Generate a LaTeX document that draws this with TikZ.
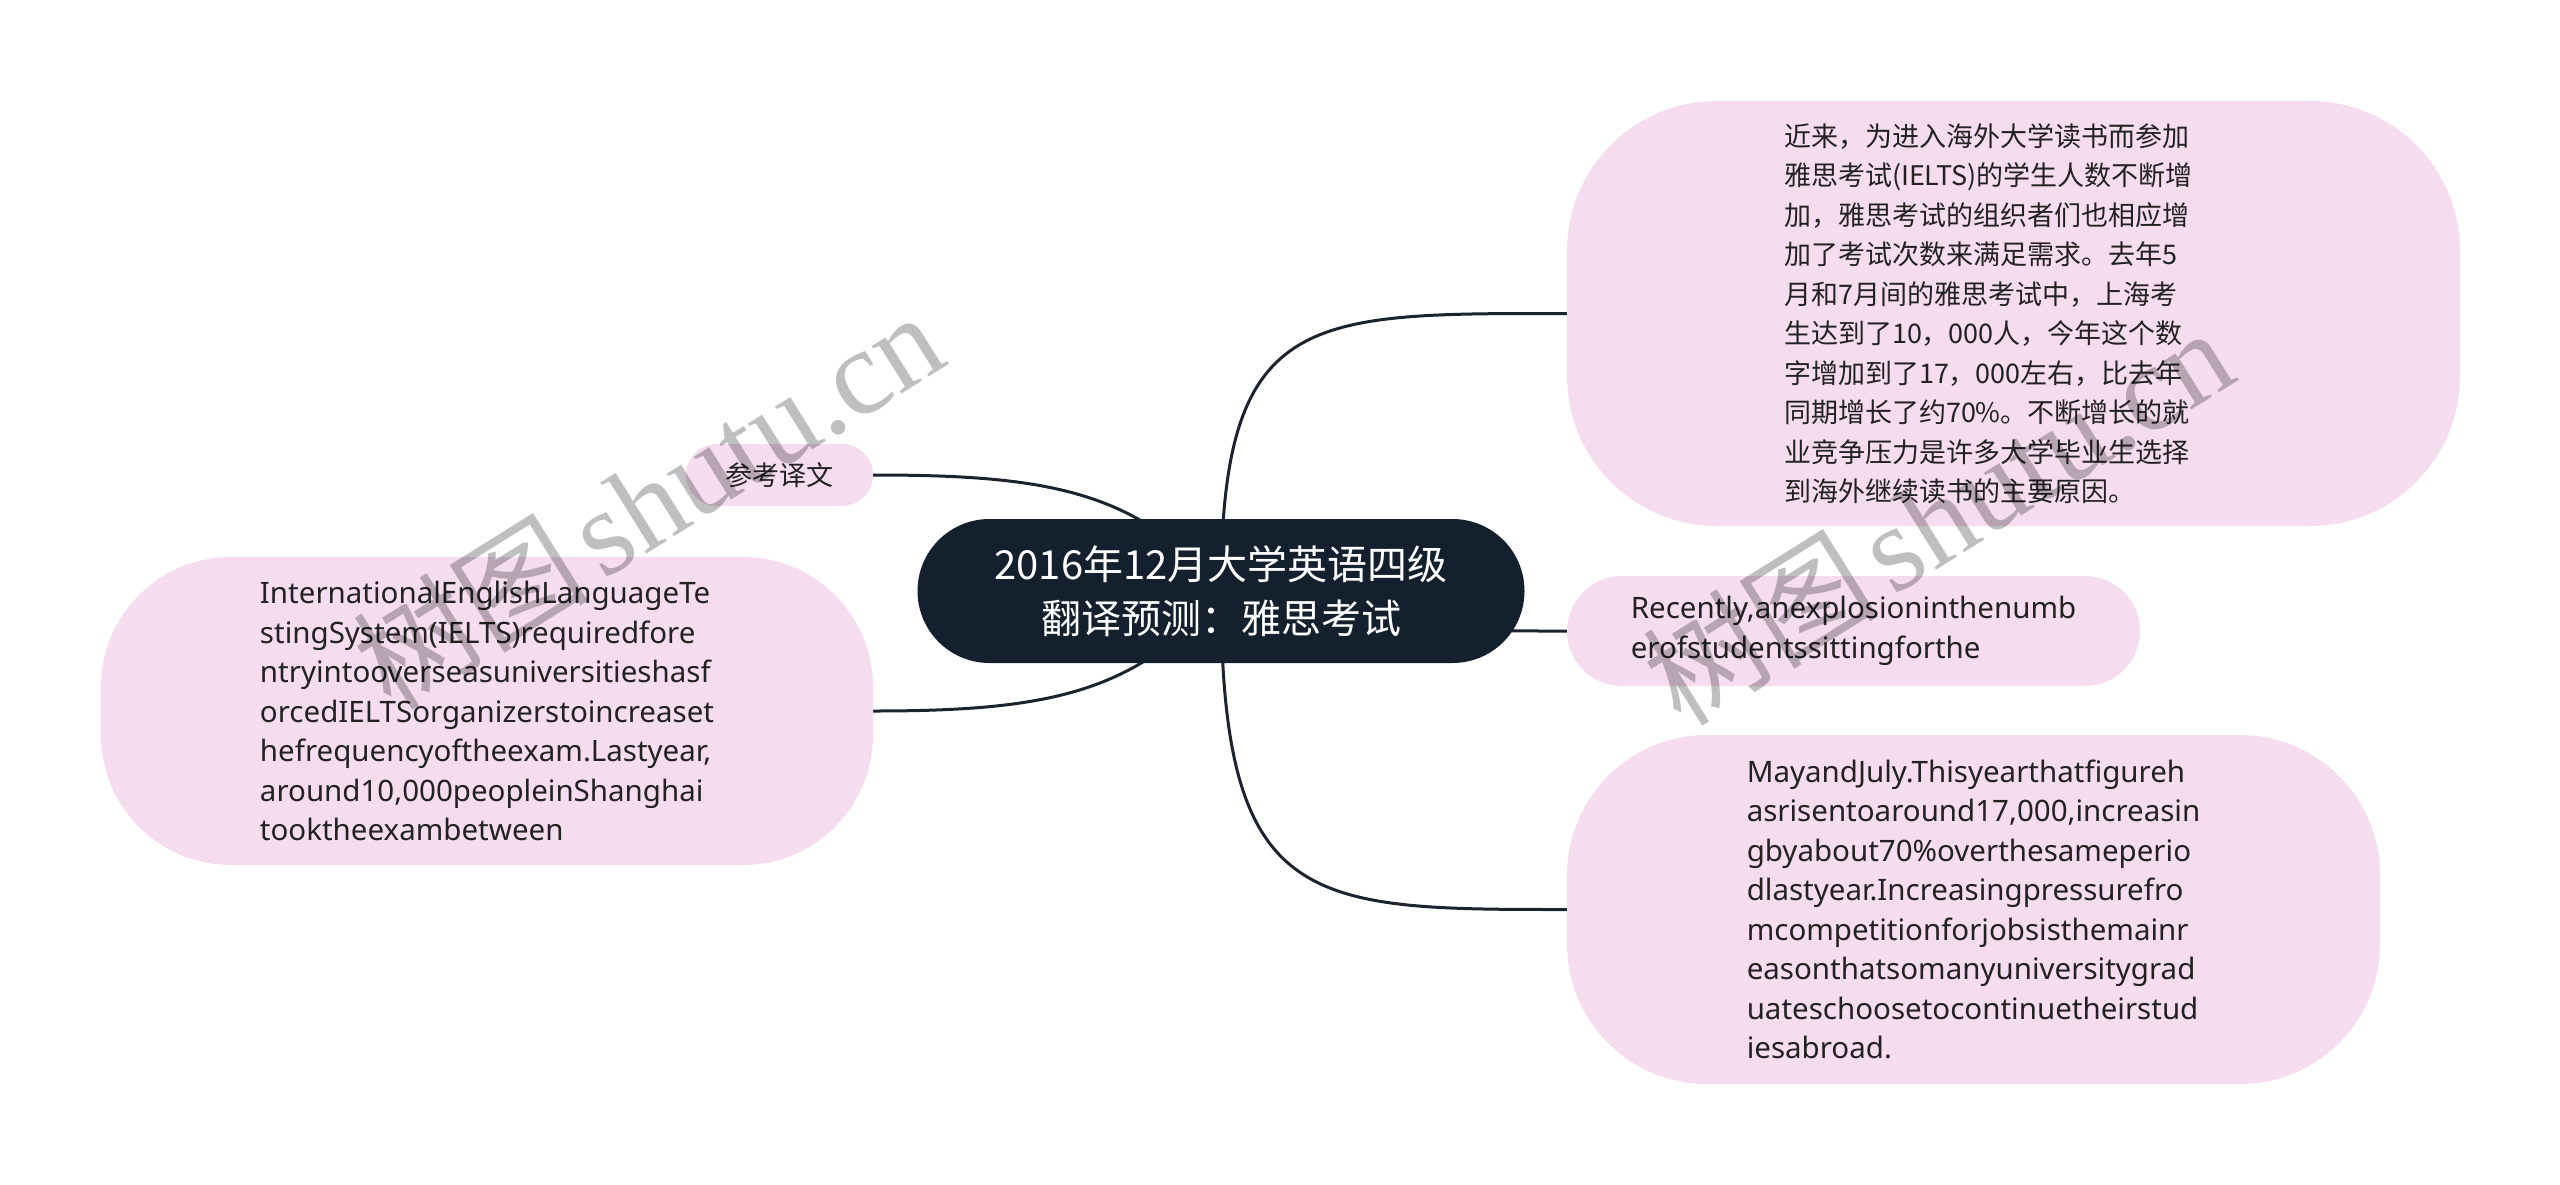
\documentclass[tikz,border=0pt]{standalone}
\usepackage{fontspec}
\setmainfont{Noto Sans}
\newfontfamily\cjk{Noto Sans CJK SC}
\newfontfamily\wmserif{Liberation Serif}
\usetikzlibrary{backgrounds}
\definecolor{pinkfill}{HTML}{F5DCEF}
\definecolor{navy}{HTML}{15202E}
\definecolor{linecol}{HTML}{1A232E}
\definecolor{txt}{HTML}{222222}
\begin{document}
\begin{tikzpicture}[x=1pt,y=-1pt,
  pinkbox/.style={fill=pinkfill, draw=none, inner sep=0pt, align=left, text=txt},
  rootbox/.style={fill=navy, text=white, inner sep=0pt, align=center,
    minimum width=607pt, minimum height=144pt, rounded corners=72pt,
    font=\cjk\fontsize{40}{54}\selectfont},
  latin/.style={font=\fontsize{29.5}{39.5}\selectfont},
  cjktext/.style={font=\cjk\fontsize{27}{39.5}\selectfont},
  link/.style={draw=linecol, line width=3pt},
  wm/.style={text=black, opacity=0.25, rotate=32, inner sep=0pt}
]
\useasboundingbox (0,0) rectangle (2560,1184);

\node[rootbox] (c) at (1221,591) {2016年12月大学英语四级\\翻译预测：雅思考试};

\node[pinkbox, cjktext, text width=459pt, minimum width=893pt, minimum height=425pt, rounded corners=150pt] (tr) at (2013.5,313.5)
{近来，为进入海外大学读书而参加\\
雅思考试(IELTS)的学生人数不断增\\
加，雅思考试的组织者们也相应增\\
加了考试次数来满足需求。去年5\\
月和7月间的雅思考试中，上海考\\
生达到了10，000人，今年这个数\\
字增加到了17，000左右，比去年\\
同期增长了约70\%。不断增长的就\\
业竞争压力是许多大学毕业生选择\\
到海外继续读书的主要原因。};

\node[pinkbox, latin, minimum width=573pt, minimum height=110pt, rounded corners=55pt] (rc) at (1853.5,631)
{Recently,anexplosioninthenumb\\
erofstudentssittingforthe};

\node[pinkbox, latin, minimum width=813pt, minimum height=349pt, rounded corners=140pt] (br) at (1973.5,909.5)
{MayandJuly.Thisyearthatfigureh\\
asrisentoaround17,000,increasin\\
gbyabout70\%overthesameperio\\
dlastyear.Increasingpressurefro\\
mcompetitionforjobsisthemainr\\
easonthatsomanyuniversitygrad\\
uateschoosetocontinuetheirstud\\
iesabroad.};

\node[pinkbox, latin, minimum width=772pt, minimum height=308pt, rounded corners=130pt] (lb) at (487,711)
{InternationalEnglishLanguageTe\\
stingSystem(IELTS)requiredfore\\
ntryintooverseasuniversitieshasf\\
orcedIELTSorganizerstoincreaset\\
hefrequencyoftheexam.Lastyear,\\
around10,000peopleinShanghai\\
tooktheexambetween};

\node[pinkbox, cjktext, minimum width=187pt, minimum height=62pt, rounded corners=31pt, align=center] (ck) at (779.5,475) {参考译文};

\begin{scope}[on background layer]
\fill[white] (0,0) rectangle (2560,1184);
\draw[link] (c.center) .. controls +(0,-281) and +(-261,0) .. (tr.west);
\draw[link] (c.center) .. controls +(0,40) and +(-150,0) .. (rc.west);
\draw[link] (c.center) .. controls +(0,318) and +(-261,0) .. (br.west);
\draw[link] (ck.east) .. controls +(172,0) and +(-82,-101) .. (c.center);
\draw[link] (lb.east) .. controls +(172,0) and +(-82,103) .. (c.center);
\end{scope}

\node[wm] (wm1) at (648,500) {{\cjk\fontsize{118}{118}\selectfont 树图}\hspace{14pt}{\wmserif\fontsize{122}{122}\selectfont shutu.cn}};
\node[wm] (wm2) at (1938,516) {{\cjk\fontsize{118}{118}\selectfont 树图}\hspace{14pt}{\wmserif\fontsize{122}{122}\selectfont shutu.cn}};
\end{tikzpicture}
\end{document}
